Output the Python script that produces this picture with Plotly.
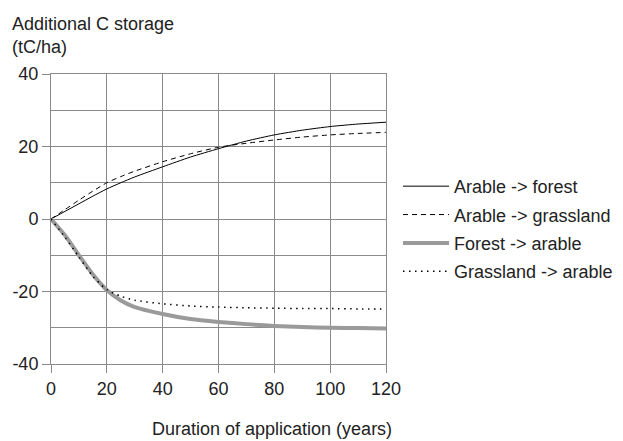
import plotly.graph_objects as go

years = [0, 5, 10, 15, 20, 25, 30, 40, 50, 60, 70, 80, 90, 100, 110, 120]
arable_forest = [0, 2.1, 4.2, 6.3, 8.3, 10.0, 11.6, 14.4, 17.1, 19.4, 21.5, 23.2, 24.5, 25.5, 26.2, 26.7]
arable_grass = [0, 2.6, 5.2, 7.7, 10.0, 11.7, 13.2, 15.8, 18.0, 19.8, 20.9, 21.8, 22.6, 23.2, 23.6, 23.9]
forest_arable = [0, -4.5, -10.0, -15.3, -19.6, -22.5, -24.3, -26.2, -27.6, -28.4, -29.0, -29.5, -29.8, -30.0, -30.1, -30.2]
grass_arable = [0, -5.0, -10.5, -15.8, -19.5, -21.3, -22.4, -23.4, -24.0, -24.3, -24.5, -24.6, -24.7, -24.7, -24.8, -24.8]

x_ticks = [0, 20, 40, 60, 80, 100, 120]
y_ticks = [-40, -20, 0, 20, 40]
y_tick_text = ["-40", "-20", "0", "20", "40"]

names = ["Arable -> forest", "Arable -> grassland", "Forest -> arable", "Grassland -> arable"]
series = [arable_forest, arable_grass, forest_arable, grass_arable]
styles = [
    dict(color="black", width=1, dash="solid"),
    dict(color="black", width=1, dash="5px,4px"),
    dict(color="#9a9a9a", width=4, dash="solid"),
    dict(color="black", width=1.5, dash="1.5px,4.5px"),
]

FONT = "Liberation Sans, Arial, Helvetica, sans-serif"
FS = 18
TXT = "#222"

# page body has an 8px margin, so the figure is sized to fit the window
W, H = 615, 433
L, T, PW, PH = 43, 66, 335, 290

fig = go.Figure()
for i, (n, s, st) in enumerate(zip(names, series, styles)):
    fig.add_trace(go.Scatter(x=years, y=s, name=n, mode="lines",
                             line=dict(shape="spline", smoothing=0.6, **st),
                             legendgroup=f"g{i}"))

grid = "#8a8a8a"
fig.update_layout(
    width=W, height=H,
    margin=dict(l=L, r=W - L - PW, t=T, b=H - T - PH, autoexpand=False),
    paper_bgcolor="white", plot_bgcolor="white",
    font=dict(family=FONT, size=FS, color=TXT),
    showlegend=True,
    legend=dict(x=(390 - L) / PW, y=0.676, xanchor="left", yanchor="top",
                font=dict(size=FS, color=TXT), tracegroupgap=2,
                itemwidth=46, bgcolor="rgba(0,0,0,0)"),
    xaxis=dict(range=[0, 120], tickvals=x_ticks, automargin=False,
               showgrid=True, gridcolor=grid, gridwidth=1,
               showline=True, linecolor=grid, mirror=True,
               ticks="outside", ticklen=8, tickcolor=grid,
               zeroline=False, tickfont=dict(size=FS, color=TXT)),
    yaxis=dict(range=[-40, 40], tickvals=y_ticks, ticktext=y_tick_text, automargin=False,
               showgrid=True, gridcolor=grid, gridwidth=1,
               minor=dict(dtick=10, showgrid=True, gridcolor=grid, gridwidth=1),
               showline=True, linecolor=grid, mirror=True,
               ticks="outside", ticklen=8, tickcolor=grid,
               zeroline=False, tickfont=dict(size=FS, color=TXT)),
    annotations=[
        dict(text="Additional C storage<br>(tC/ha)", xref="paper", yref="paper",
             x=-L / PW, y=1 + T / PH, xanchor="left", yanchor="top",
             yshift=-4, xshift=2, align="left", showarrow=False,
             font=dict(size=FS, color=TXT)),
        dict(text="Duration of application (years)", xref="paper", yref="paper",
             x=(264 - L) / PW, y=-(H - T - PH) / PH, xanchor="center", yanchor="bottom",
             showarrow=False, font=dict(size=FS, color=TXT)),
    ],
)

fig.write_html("out.html")
